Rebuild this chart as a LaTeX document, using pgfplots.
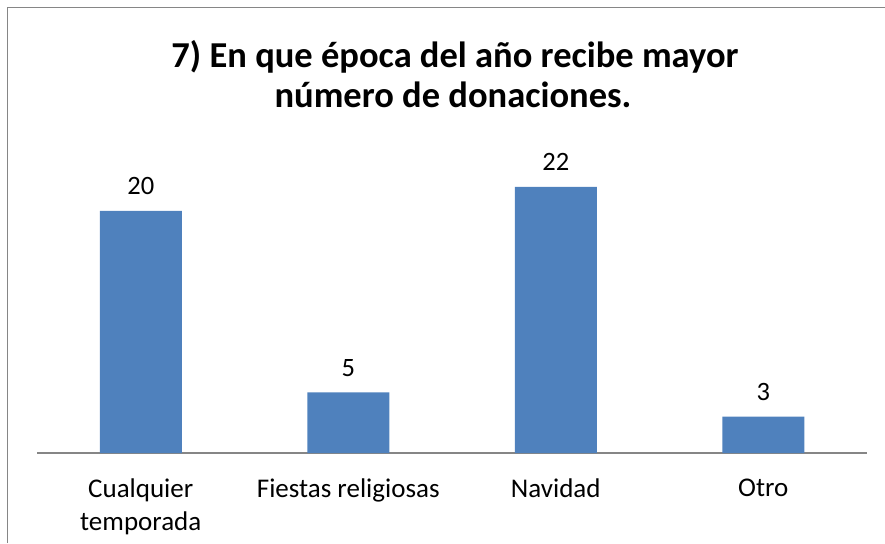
\documentclass[border=0pt]{standalone}
\usepackage{pgfplots}
\pgfplotsset{compat=1.18}
\usepackage{fontspec}
\setmainfont{Carlito}
\definecolor{barblue}{HTML}{4F81BD}
\definecolor{framegray}{HTML}{868686}
\begin{document}
\begin{tikzpicture}[x=1pt,y=1pt]
\useasboundingbox (0,0) rectangle (885,543);
\draw[framegray, line width=1.2pt] (7.5,0) -- (7.5,535.5) -- (885,535.5);
\node[font=\fontsize{36.5}{40}\selectfont\bfseries, anchor=base] at (455,475) {7) En que época del año recibe mayor};
\node[font=\fontsize{36.5}{40}\selectfont\bfseries, anchor=base] at (453,435) {número de donaciones.};
\begin{axis}[
  at={(140.75pt,90pt)}, anchor=origin,
  scale only axis, width=830pt, height=302.5pt,
  xmin=-0.5, xmax=3.5, ymin=0, ymax=25,
  axis x line=bottom,
  x axis line style={-, framegray, line width=1.2pt},
  hide y axis,
  xtick={0,1,2,3},
  xtick style={draw=none},
  xticklabels={Cualquier\\temporada, Fiestas religiosas, Navidad, Otro},
  xticklabel style={align=center, font=\fontsize{27}{33}\selectfont, anchor=north, yshift=-22pt},
  major tick length=0pt,
  nodes near coords={\pgfmathprintnumber[assume math mode=true]{\pgfplotspointmeta}},
  every node near coord/.append style={font=\fontsize{26.5}{30}\selectfont, anchor=base, yshift=16pt},
  clip=false,
]
\addplot[ybar, bar width=82pt, fill=barblue, draw=none] coordinates {(0,20) (1,5) (2,22) (3,3)};
\end{axis}
\end{tikzpicture}
\end{document}
